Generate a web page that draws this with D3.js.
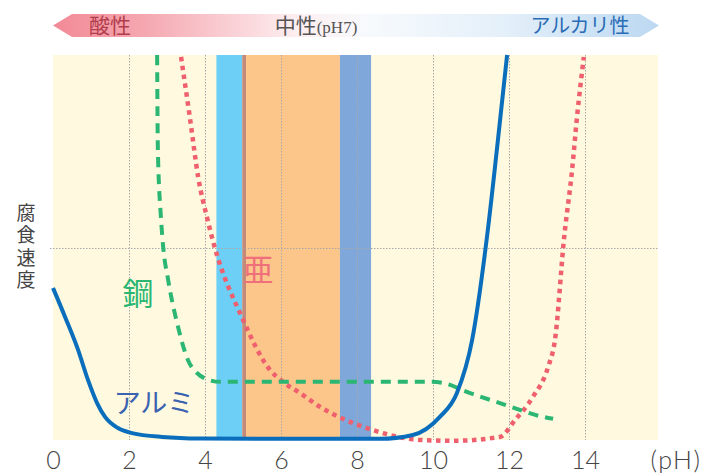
<!DOCTYPE html>
<html><head><meta charset="utf-8">
<script src="https://cdn.jsdelivr.net/npm/d3@7"></script>
<style>
html,body{margin:0;padding:0;background:#fff;}
svg{display:block;}
</style></head>
<body>
<svg id="chart" width="706" height="473"></svg>
<script>
// ---- data ----
const xTicks = [0, 2, 4, 6, 8, 10, 12, 14];
const xUnitLabel = "(pH)";
const yLabel = "腐食速度";
const headerLabels = ["酸性", "中性", "(pH7)", "アルカリ性"];

// aluminium (solid blue)
const alumPH = [0, 0.32, 0.66, 0.92, 1.16, 1.37, 1.71, 2.08, 2.87, 3.87, 6.5, 8.6, 9.47, 10.18, 10.63, 11.03, 11.42, 11.68, 11.95];
const alumRate = [39.5, 31.9, 23.4, 15.6, 9.6, 6.0, 3.1, 1.8, 0.8, 0.4, 0.3, 0.3, 1.3, 6.0, 12.2, 26.0, 52.7, 75.3, 100];
// steel (dashed green)
const steelPH = [2.74, 2.76, 2.84, 2.9, 3.03, 3.29, 3.55, 3.79, 4.05, 4.4, 9.97, 10.45, 10.76, 11.76, 12.9, 13.16];
const steelRate = [100, 75.3, 57.9, 50.1, 41.6, 29.4, 20.8, 17.4, 15.8, 15.1, 15.1, 14.3, 13.0, 9.6, 6.0, 5.5];
// zinc (dotted red)
const zincPH = [3.37, 3.6, 3.82, 4.05, 4.24, 4.97, 5.71, 6.05, 6.5, 7.03, 7.63, 8.26, 8.87, 9.66, 10.53, 11.76, 12.16, 12.63, 13.03, 13.21, 13.45, 13.66, 13.79, 13.97];
const zincRate = [99.5, 83.9, 68.3, 57.9, 50.6, 31.9, 18.2, 15.1, 12.2, 8.6, 5.5, 3.1, 1.3, 0, -0.2, 0.8, 5.2, 11.2, 19.0, 26.0, 52.5, 70.1, 83.9, 99.5];

// pH bands: [from, to]
const bandFrom = [4.3, 4.98, 5.08, 7.55];
const bandTo   = [4.98, 5.08, 7.55, 8.37];

// ---- layout ----
const svg = d3.select("#chart");
const pLeft = 53, pTop = 55, pBottom = 440, pRight = 658;
const x = d3.scaleLinear().domain([0, 16]).range([pLeft, pLeft + 38 * 16]);
const y = d3.scaleLinear().domain([0, 100]).range([pBottom, pTop]);

// header arrow with gradient
const defs = svg.append("defs");
const grad = defs.append("linearGradient").attr("id", "hdr").attr("x1", "0%").attr("x2", "100%");
grad.append("stop").attr("offset", "0%").attr("stop-color", "#f28a96");
grad.append("stop").attr("offset", "15%").attr("stop-color", "#f5a7b0");
grad.append("stop").attr("offset", "40%").attr("stop-color", "#fdeef0");
grad.append("stop").attr("offset", "52%").attr("stop-color", "#f7fafd");
grad.append("stop").attr("offset", "75%").attr("stop-color", "#e3eff9");
grad.append("stop").attr("offset", "100%").attr("stop-color", "#bcd8f1");
const hy0 = 14, hy1 = 37, hym = 25.5;
svg.append("path")
  .attr("d", `M53,${hym} L72,${hy0} L640,${hy0} L659,${hym} L640,${hy1} L72,${hy1} Z`)
  .attr("fill", "url(#hdr)");
const hdrFont = "'Noto Sans CJK JP', sans-serif";
svg.append("text").attr("x", 110).attr("y", 33).attr("text-anchor", "middle")
  .attr("font-family", hdrFont).attr("font-size", 21).attr("fill", "#b23d4d").text(headerLabels[0]);
const mid = svg.append("text").attr("x", 316).attr("y", 33).attr("text-anchor", "middle")
  .attr("font-family", hdrFont).attr("fill", "#555");
mid.append("tspan").attr("font-size", 21).text(headerLabels[1]);
mid.append("tspan").attr("font-size", 17).attr("font-family", "'Liberation Serif', serif").text(headerLabels[2]);
svg.append("text").attr("x", 580).attr("y", 33).attr("text-anchor", "middle")
  .attr("font-family", hdrFont).attr("font-size", 20).attr("fill", "#2a6cb5").text(headerLabels[3]);

// plot background
svg.append("rect").attr("x", pLeft).attr("y", pTop).attr("width", pRight - pLeft).attr("height", pBottom - pTop)
  .attr("fill", "#fffadf");

// bands
const bandColors = ["#6dcff6", "#c28a7a", "#fcc68a", "#7fa7d9"];
svg.append("g").selectAll("rect").data(bandFrom).join("rect")
  .attr("x", (d) => x(d))
  .attr("width", (d, i) => x(bandTo[i]) - x(d))
  .attr("y", y(100)).attr("height", y(0) - y(100))
  .attr("fill", (d, i) => bandColors[i]);

// gridlines
const grid = svg.append("g").attr("stroke", "#a8a8a8").attr("stroke-width", 1).attr("stroke-dasharray", "1.5,1.5");
grid.selectAll("line.v").data(xTicks.filter(d => d > 0)).join("line").attr("class", "v")
  .attr("x1", d => x(d) + 0.5).attr("x2", d => x(d) + 0.5).attr("y1", y(100)).attr("y2", y(0));
grid.append("line").attr("x1", pLeft - 3).attr("x2", pRight).attr("y1", Math.round(y(50)) + 0.5).attr("y2", Math.round(y(50)) + 0.5);

// curves
const line = d3.line().x(d => x(d[0])).y(d => y(d[1])).curve(d3.curveMonotoneX);
const zip = (a, b) => a.map((v, i) => [v, b[i]]);

svg.append("path").datum(zip(zincPH, zincRate)).attr("d", line)
  .attr("fill", "none").attr("stroke", "#ef5f6d").attr("stroke-width", 4.5)
  .attr("stroke-dasharray", "4.5,4.5");
svg.append("path").datum(zip(steelPH, steelRate)).attr("d", line)
  .attr("fill", "none").attr("stroke", "#2bb673").attr("stroke-width", 4)
  .attr("stroke-dasharray", "10,7");
svg.append("path").datum(zip(alumPH, alumRate)).attr("d", line)
  .attr("fill", "none").attr("stroke", "#0a6ebd").attr("stroke-width", 4);

// series labels
svg.append("text").attr("x", 138).attr("y", 305).attr("text-anchor", "middle")
  .attr("font-family", hdrFont).attr("font-size", 31).attr("fill", "#2bb673").text("鋼");
svg.append("text").attr("x", 258).attr("y", 281).attr("text-anchor", "middle")
  .attr("font-family", hdrFont).attr("font-size", 31).attr("fill", "#ef6f7a").text("亜");
svg.append("text").attr("x", 154).attr("y", 413).attr("text-anchor", "middle")
  .attr("font-family", hdrFont).attr("font-size", 27).attr("fill", "#3a62b0").text("アルミ");

// y label (vertical writing)
svg.append("text")
  .attr("x", 26).attr("y", 203)
  .style("writing-mode", "vertical-rl")
  .attr("letter-spacing", 3.5)
  .attr("font-family", hdrFont).attr("font-size", 19).attr("fill", "#444").text(yLabel);

// x axis labels
const axis = d3.axisBottom(x).tickValues(xTicks).tickSize(0).tickPadding(0).tickFormat(d3.format("d"));
const ax = svg.append("g").attr("transform", "translate(0,450)").call(axis);
ax.select(".domain").remove();
ax.selectAll("text").attr("font-family", "Lato, sans-serif").attr("font-weight", 300)
  .attr("font-size", 25).attr("fill", "#444").attr("dy", "0.74em");
svg.append("text").attr("x", 676).attr("y", 469).attr("text-anchor", "middle")
  .attr("font-family", "Lato, sans-serif").attr("font-weight", 300)
  .attr("font-size", 25).attr("letter-spacing", 1.5).attr("fill", "#444").text(xUnitLabel);
</script>
</body></html>
